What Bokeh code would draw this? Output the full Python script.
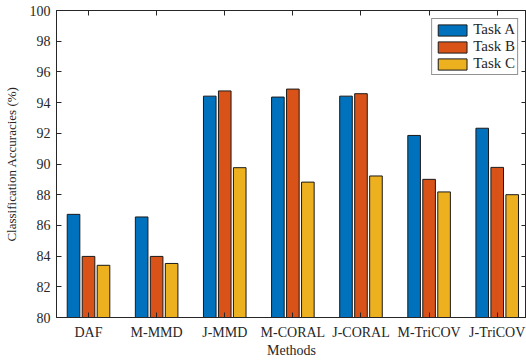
import numpy as np
from bokeh.plotting import figure
from bokeh.models import (ColumnDataSource, Range1d, LinearAxis, FixedTicker,
                          Legend, LegendItem)
from bokeh.embed import file_html
from bokeh.resources import INLINE

methods = ["DAF", "M-MMD", "J-MMD", "M-CORAL", "J-CORAL", "M-TriCOV", "J-TriCOV"]
task_a = [86.72, 86.55, 94.42, 94.36, 94.42, 91.86, 92.33]
task_b = [83.98, 83.98, 94.76, 94.88, 94.58, 89.00, 89.78]
task_c = [83.40, 83.52, 89.76, 88.82, 89.22, 88.18, 88.00]
series_names = ["Task A", "Task B", "Task C"]
colors = ["#0072BD", "#D95319", "#EDB120"]
y_ticks = list(range(80, 101, 2))

FONT = "Liberation Serif"
x = np.arange(1, len(methods) + 1)

p = figure(width=526, height=360, output_backend="svg", toolbar_location=None,
           x_range=Range1d(0.53, 7.43), y_range=Range1d(80, 100),
           min_border_left=56, min_border_right=0, min_border_top=10,
           min_border_bottom=0)
p.xgrid.visible = False
p.ygrid.visible = False
p.outline_line_color = "#262626"
p.outline_line_width = 1
p.background_fill_color = "white"
p.border_fill_color = "white"

offsets = [-0.22, 0.0, 0.22]
renderers = []
for vals, off, col in zip([task_a, task_b, task_c], offsets, colors):
    src = ColumnDataSource(dict(x=x + off, top=vals))
    r = p.vbar(x="x", top="top", bottom=80, width=0.185, source=src,
               fill_color=col, line_color="#1a1a1a", line_width=1)
    renderers.append(r)

label_map = {int(i): m for i, m in zip(x, methods)}

def style_axis(ax, show_labels=True):
    ax.axis_line_color = "#262626"
    ax.major_tick_line_color = "#262626"
    ax.major_tick_in = 5
    ax.major_tick_out = 0
    ax.minor_tick_line_color = None
    ax.major_label_text_font = FONT
    if show_labels:
        ax.major_label_text_font_size = "14px"
        ax.major_label_text_color = "#262626"
    else:
        ax.major_label_text_font_size = "1px"
        ax.major_label_text_color = None
        ax.major_label_standoff = 0

# bottom x axis
xa = p.xaxis[0]
xa.ticker = FixedTicker(ticks=list(x))
xa.major_label_overrides = label_map
style_axis(xa)
xa.major_label_standoff = 7
xa.axis_label = "Methods"
xa.axis_label_text_font = FONT
xa.axis_label_text_font_style = "normal"
xa.axis_label_text_font_size = "14px"
xa.axis_label_standoff = 0
xa.axis_label_text_color = "#262626"

# left y axis
ya = p.yaxis[0]
ya.ticker = FixedTicker(ticks=y_ticks)
style_axis(ya)
ya.major_label_standoff = 6
ya.axis_label = "Classification Accuracies (%)"
ya.axis_label_text_font = FONT
ya.axis_label_text_font_style = "normal"
ya.axis_label_text_font_size = "13px"
ya.axis_label_standoff = 8
ya.axis_label_text_color = "#262626"

# top and right axes (ticks only)
ta = LinearAxis(ticker=FixedTicker(ticks=list(x)))
style_axis(ta, show_labels=False)
p.add_layout(ta, "above")
ra = LinearAxis(ticker=FixedTicker(ticks=y_ticks))
style_axis(ra, show_labels=False)
p.add_layout(ra, "right")

legend = Legend(items=[LegendItem(label=n, renderers=[r]) for n, r in zip(series_names, renderers)],
                location="top_right")
legend.label_text_font = FONT
legend.label_text_font_size = "15px"
legend.label_text_color = "#262626"
legend.glyph_width = 36
legend.glyph_height = 14
legend.label_height = 14
legend.spacing = 0
legend.padding = 2
legend.margin = 8
legend.label_standoff = 3
legend.border_line_color = "#262626"
legend.border_line_width = 1
legend.background_fill_alpha = 1
p.add_layout(legend)

open("out.html", "w").write(file_html(p, INLINE))
